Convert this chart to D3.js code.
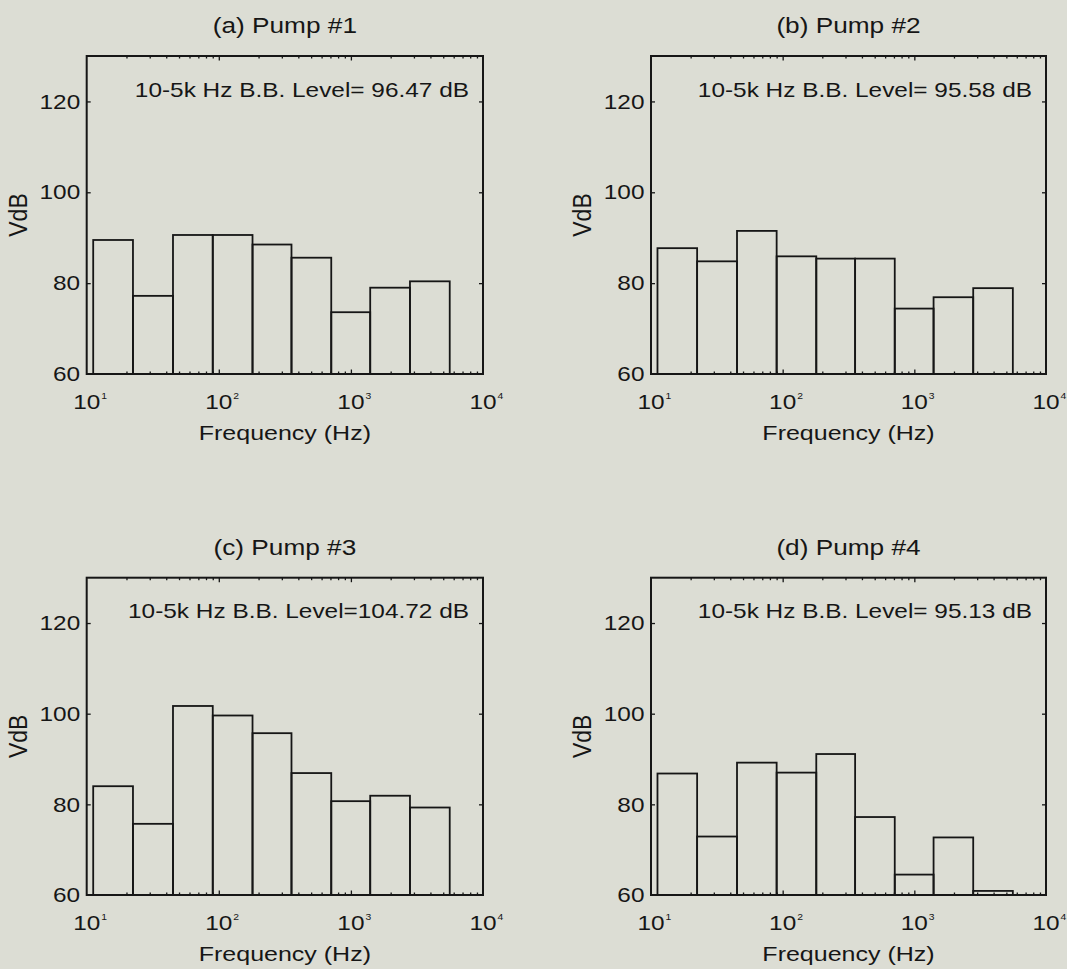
<!DOCTYPE html>
<html>
<head>
<meta charset="utf-8">
<script src="https://cdn.jsdelivr.net/npm/d3@7"></script>
<style>
  html, body { margin: 0; padding: 0; background: #dcddd4; }
  svg { display: block; }
  text { font-family: "Liberation Sans", Arial, Helvetica, sans-serif; fill: #161616; }
</style>
</head>
<body>
<svg id="chart" width="1067" height="969"></svg>
<script>
// ---------- data ----------
const bandLower = [11.2, 22.4, 45, 90, 180, 355, 710, 1400, 2800];
const bandUpper = [22.4, 45, 90, 180, 355, 710, 1400, 2800, 5600];

const pump1 = [89.5, 77.2, 90.6, 90.6, 88.5, 85.6, 73.6, 79.0, 80.4];
const pump2 = [87.7, 84.8, 91.5, 85.9, 85.4, 85.4, 74.4, 76.9, 78.9];
const pump3 = [84.0, 75.7, 101.7, 99.6, 95.7, 86.9, 80.7, 81.9, 79.3];
const pump4 = [86.8, 72.9, 89.2, 87.0, 91.1, 77.2, 64.5, 72.7, 60.9];

const titles = ["(a) Pump #1", "(b) Pump #2", "(c) Pump #3", "(d) Pump #4"];
const levels = [
  "10-5k Hz B.B. Level= 96.47 dB",
  "10-5k Hz B.B. Level= 95.58 dB",
  "10-5k Hz B.B. Level=104.72 dB",
  "10-5k Hz B.B. Level= 95.13 dB"
];
const yTickValues = [60, 80, 100, 120];
const xDecades = [1, 2, 3, 4];
const xLabel = "Frequency (Hz)";
const yLabel = "VdB";

// ---------- layout ----------
const cols = [[86.7, 483], [651, 1046]];
const rows = [[56, 374], [577.7, 895]];
const panels = [
  { data: pump1, c: 0, r: 0 },
  { data: pump2, c: 1, r: 0 },
  { data: pump3, c: 0, r: 1 },
  { data: pump4, c: 1, r: 1 }
];
const STRETCH = 1.22;
const INK = "#161616";

const svg = d3.select("#chart");

function stext(g, x, y, str, size, anchor) {
  return g.append("g")
    .attr("transform", `translate(${x},${y}) scale(${STRETCH},1)`)
    .append("text")
    .attr("text-anchor", anchor)
    .attr("font-size", size)
    .text(str);
}

panels.forEach((p, i) => {
  const [L, R] = cols[p.c];
  const [T, B] = rows[p.r];
  const x = d3.scaleLog().domain([10, 10000]).range([L, R]);
  const y = d3.scaleLinear().domain([60, 130]).range([B, T]);
  const g = svg.append("g");

  // bars
  g.selectAll("rect.bar").data(p.data).enter().append("rect")
    .attr("class", "bar")
    .attr("x", (d, k) => x(bandLower[k]))
    .attr("width", (d, k) => x(bandUpper[k]) - x(bandLower[k]))
    .attr("y", d => y(d))
    .attr("height", d => y(60) - y(d))
    .attr("fill", "none")
    .attr("stroke", INK)
    .attr("stroke-width", 1.8);

  // ticks (inward)
  const allX = x.ticks().filter(v => v > 10 && v < 10000);
  const majors = allX.filter(v => Math.abs(Math.log10(v) - Math.round(Math.log10(v))) < 1e-9);
  const minors = allX.filter(v => majors.indexOf(v) < 0);
  const tickStyle = sel => {
    sel.select(".domain").remove();
    sel.selectAll("line").attr("stroke", INK).attr("stroke-width", 1.3);
  };
  g.append("g").attr("transform", `translate(0,${B})`)
    .call(d3.axisBottom(x).tickValues(minors).tickSize(-2.5).tickFormat(""))
    .call(tickStyle);
  g.append("g").attr("transform", `translate(0,${B})`)
    .call(d3.axisBottom(x).tickValues(majors).tickSize(-4.5).tickFormat(""))
    .call(tickStyle);
  g.append("g").attr("transform", `translate(0,${T})`)
    .call(d3.axisTop(x).tickValues(minors).tickSize(-2.5).tickFormat(""))
    .call(tickStyle);
  g.append("g").attr("transform", `translate(0,${T})`)
    .call(d3.axisTop(x).tickValues(majors).tickSize(-4.5).tickFormat(""))
    .call(tickStyle);
  const innerY = yTickValues.filter(v => v > 60);
  g.append("g").attr("transform", `translate(${L},0)`)
    .call(d3.axisLeft(y).tickValues(innerY).tickSize(-4).tickFormat(""))
    .call(tickStyle);
  g.append("g").attr("transform", `translate(${R},0)`)
    .call(d3.axisRight(y).tickValues(innerY).tickSize(-4).tickFormat(""))
    .call(tickStyle);

  // frame
  g.append("rect")
    .attr("x", L).attr("y", T)
    .attr("width", R - L).attr("height", B - T)
    .attr("fill", "none").attr("stroke", INK).attr("stroke-width", 2);

  // y tick labels
  yTickValues.forEach(v => {
    stext(g, L - 6.5, y(v), String(v), 20, "end").attr("dy", "0.36em");
  });

  // x tick labels 10^n
  xDecades.forEach(e => {
    const cx = x(Math.pow(10, e));
    const base = B + 35;
    stext(g, cx, base, "10", 20, "middle");
    stext(g, cx + 14.5, base - 10, String(e), 8.5, "start");
  });

  // axis labels
  stext(g, (L + R) / 2, B + 65.5, xLabel, 20.5, "middle");
  g.append("g")
    .attr("transform", `translate(${L - 60},${(T + B) / 2}) scale(1.12,1) rotate(-90)`)
    .append("text")
    .attr("text-anchor", "middle")
    .attr("font-size", 23)
    .text(yLabel);

  // title and annotation
  stext(g, (L + R) / 2, T - 22.7, titles[i], 21.5, "middle");
  stext(g, R - 14, T + 40.7, levels[i], 20, "end");
});
</script>
</body>
</html>
